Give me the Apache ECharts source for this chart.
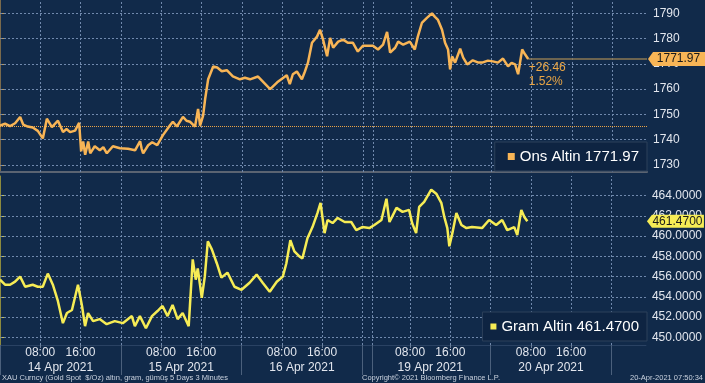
<!DOCTYPE html>
<html>
<head>
<meta charset="utf-8">
<script src="https://cdn.jsdelivr.net/npm/echarts@6/dist/echarts.min.js"></script>
<style>
html,body{margin:0;padding:0;background:#112a4a;}
#c{width:705px;height:383px;}
</style>
</head>
<body>
<div id="c"></div>
<script>
// ---- data (x = display hours from 14 Apr 2021 00:00, weekend compressed) ----
const onsHours = [
  0,1.0,2.0,3.0,4.0,4.6,5.5,6.5,7.5,8.5,
  9.3,10.3,11.5,12.5,13.2,13.9,14.9,15.7,16.1,16.5,
  16.9,17.5,17.9,18.8,19.8,20.5,21.2,22.4,23.8,25.4,
  26.8,27.8,28.1,28.4,29.4,30.2,31.2,32.3,33.7,34.3,
  35.1,36.3,37.0,37.7,38.7,39.3,39.7,40.3,40.7,41.3,
  42.3,43.1,44.0,45.0,46.2,47.6,48.6,49.6,51.2,52.4,
  53.6,55.0,56.9,57.5,58.1,58.9,59.9,60.5,61.1,61.9,
  62.9,63.5,64.1,64.9,65.5,66.1,67.1,68.1,69.0,70.0,
  71.0,72.0,74.0,75.0,76.0,76.8,77.4,78.4,79.0,80.0,
  81.3,82.3,82.9,83.7,84.7,85.7,86.3,86.9,87.7,88.3,
  88.9,89.3,89.7,90.3,91.3,91.9,92.7,93.8,94.8,95.8,
  96.8,97.8,98.8,99.8,100.8,101.5,102.2,102.8,103.6,104.2,
  104.8
];
const onsValues = [
  1745.6,1746.3,1745.4,1746.5,1749.0,1746.0,1745.2,1744.8,1743.5,1740.5,
  1748.3,1745.0,1747.5,1743.0,1744.2,1743.0,1743.6,1746.7,1735.4,1739.3,
  1734.0,1739.3,1734.6,1737.4,1735.8,1737.0,1734.6,1737.4,1736.6,1736.4,
  1735.8,1739.4,1736.5,1734.6,1737.8,1739.0,1737.8,1741.7,1745.6,1747.1,
  1745.2,1749.0,1747.5,1747.1,1745.2,1752.2,1745.6,1749.5,1756.1,1763.9,
  1769.0,1768.6,1767.1,1767.5,1765.1,1763.9,1764.5,1763.9,1765.0,1762.5,
  1760.0,1762.7,1765.5,1762.0,1765.9,1767.0,1763.9,1767.0,1770.5,1778.4,
  1780.8,1783.5,1779.6,1773.0,1780.3,1776.4,1778.8,1779.6,1778.4,1778.4,
  1774.9,1777.2,1777.2,1775.7,1777.6,1782.7,1774.5,1776.4,1778.8,1777.6,
  1778.8,1775.7,1780.8,1786.2,1788.2,1790.0,1788.6,1787.4,1783.5,1778.4,
  1775.7,1767.8,1773.0,1770.5,1776.0,1772.5,1769.8,1771.4,1770.6,1770.6,
  1771.3,1771.0,1770.5,1772.1,1769.0,1770.4,1769.8,1765.9,1775.7,1773.7,
  1771.97
];
const gramHours = [
  0,1.0,2.0,3.0,4.0,5.0,6.5,7.5,8.5,9.5,
  10.5,11.5,12.5,13.3,14.3,15.5,16.3,16.9,17.5,18.5,
  19.8,21.2,22.8,24.4,26.2,26.8,27.8,29.0,30.2,31.3,
  32.3,33.3,34.3,35.3,36.3,37.5,38.3,38.9,39.3,40.1,
  40.7,41.3,42.1,43.1,44.0,45.2,46.6,48.0,49.6,51.0,
  52.2,53.6,55.0,56.2,56.9,57.7,58.5,59.5,60.1,61.1,
  62.1,63.1,63.7,64.5,65.1,66.1,67.1,68.5,69.8,70.8,
  72.0,73.4,74.4,75.8,76.8,77.4,78.8,80.0,81.3,81.9,
  82.7,83.3,84.3,85.7,86.7,87.7,88.3,88.9,89.3,89.9,
  90.7,91.7,92.7,93.8,95.8,97.2,98.6,99.8,100.8,102.2,
  102.8,103.6,104.2,104.8
];
const gramValues = [
  455.7,455.2,455.2,455.5,456.0,455.0,455.2,455.0,455.0,456.3,
  455.2,453.6,451.4,452.4,452.7,455.2,453.1,451.1,452.4,451.6,
  451.8,451.3,451.6,451.4,452.1,451.1,452.1,450.9,452.1,452.6,
  453.1,452.1,453.2,451.8,452.4,451.1,457.7,455.7,456.8,453.9,
  456.0,459.5,458.7,457.3,455.9,456.4,455.0,454.7,455.4,456.2,
  455.4,454.5,455.5,456.0,457.3,459.6,458.5,458.0,457.8,459.8,
  460.9,462.3,463.3,460.3,461.6,461.3,461.8,461.4,461.4,460.6,
  460.9,460.8,461.1,461.6,463.7,461.4,462.8,462.4,462.6,461.3,
  460.3,462.9,463.4,464.6,464.2,463.3,461.9,460.8,459.0,460.3,
  462.3,461.1,460.8,460.9,460.8,461.6,461.1,461.6,460.6,460.9,
  460.1,462.6,461.9,461.47
];
const onsChange = '+26.46';
const onsChangePct = '1.52%';
const onsPrevClose = 1745.51;

const onsTicks = [1730,1740,1750,1760,1770,1780,1790];
const gramTicks = [450,452,454,456,458,460,462,464];
const timeHours = [8,16,32,40,56,64,81.5,89.5,105.5,113.5];
const timeLabels = ['08:00','16:00','08:00','16:00','08:00','16:00','08:00','16:00','08:00','16:00'];
const dateHours = [12,36,60,85.5,109.5];
const dateLabels = ['14 Apr 2021','15 Apr 2021','16 Apr 2021','19 Apr 2021','20 Apr 2021'];
const dayBoundaries = [0,24,48,72,74,97.5,121.5];
const gridHours = [8,16,24,32,40,48,56,64,72,74,81.5,89.5,97.5,105.5,113.5,121.5];

const X_MAX = 128.37;
const ORANGE = '#f8b556';
const YELLOW = '#f6ec55';
const FONT = '"Liberation Sans", Arial, sans-serif';

const onsData = onsHours.map((h,i)=>[h, onsValues[i]]);
const gramData = gramHours.map((h,i)=>[h, gramValues[i]]);
const onsLast = onsData[onsData.length-1];
const gramLast = gramData[gramData.length-1];

function gridMarks(ticks){
  const st = ()=>({color:'#7089ad', opacity:1, type:[2,2], width:1});
  return gridHours.map(h=>({xAxis:h, lineStyle:st()}))
    .concat(ticks.map(v=>({yAxis:v, lineStyle:st()})));
}
const tagPath = 'path://M0,7L5,0L57,0L57,14L5,14Z';

const chart = echarts.init(document.getElementById('c'), null, {renderer:'canvas'});
chart.setOption({
  animation:false,
  backgroundColor:'#112a4a',
  textStyle:{fontFamily:FONT},
  grid:[
    {left:0, right:58, top:0, height:172},
    {left:0, right:58, top:176, height:169}
  ],
  xAxis:[
    {type:'value', gridIndex:0, min:0, max:X_MAX,
     axisLine:{show:true, onZero:false, lineStyle:{color:'#5b6472', width:2}},
     axisTick:{show:false}, axisLabel:{show:false}, splitLine:{show:false}},
    {type:'value', gridIndex:1, min:0, max:X_MAX, position:'bottom',
     axisLine:{show:true, onZero:false, lineStyle:{color:'#2a4263', width:1}},
     axisTick:{show:true, length:3, customValues:timeHours, lineStyle:{color:'#6c7f98'}},
     axisLabel:{show:true, customValues:timeHours, margin:2, color:'#e2e6ee', fontSize:12, fontFamily:FONT,
       formatter:(v)=>{const i=timeHours.indexOf(v); return i>=0?timeLabels[i]:'';}},
     splitLine:{show:false}},
    {type:'value', gridIndex:1, min:0, max:X_MAX, position:'bottom', offset:15,
     axisLine:{show:false}, axisTick:{show:false},
     axisLabel:{show:true, customValues:dateHours, margin:2, color:'#e2e6ee', fontSize:12, fontFamily:FONT,
       formatter:(v)=>{const i=dateHours.indexOf(v); return i>=0?dateLabels[i]:'';}},
     splitLine:{show:false}},
    {type:'value', gridIndex:1, min:0, max:X_MAX, position:'bottom',
     axisLine:{show:false},
     axisTick:{show:true, length:30, customValues:dayBoundaries, lineStyle:{color:'#4b607c', width:1}},
     axisLabel:{show:false}, splitLine:{show:false}}
  ],
  yAxis:[
    {type:'value', gridIndex:0, position:'right', min:1727.2, max:1795.3,
     axisLine:{show:true, lineStyle:{color:'#7a6a4c', width:1}},
     axisTick:{show:true, length:4, customValues:onsTicks, lineStyle:{color:'#b89862'}},
     axisLabel:{show:true, customValues:onsTicks, margin:6, color:'#e2e6ee', fontSize:12, fontFamily:FONT,
       formatter:(v)=>String(v)},
     splitLine:{show:false}},
    {type:'value', gridIndex:1, position:'right', min:449.24, max:465.95,
     axisLine:{show:true, lineStyle:{color:'#8c8a3e', width:1}},
     axisTick:{show:true, length:4, customValues:gramTicks, lineStyle:{color:'#c4bd52'}},
     axisLabel:{show:true, customValues:gramTicks, margin:6, color:'#e2e6ee', fontSize:12, fontFamily:FONT,
       formatter:(v)=>v.toFixed(4)},
     splitLine:{show:false}}
  ],
  legend:[
    {data:['Ons Altin'], right:58, top:142, icon:'rect', itemWidth:7, itemHeight:7,
     padding:[7,8,7,13], backgroundColor:'#0e2442', borderColor:'#2c405a', borderWidth:1,
     textStyle:{color:'#ffffff', fontSize:15, fontFamily:FONT},
     formatter:(n)=>n+' '+onsLast[1].toFixed(2)},
    {data:['Gram Altin'], right:58, top:312, icon:'rect', itemWidth:6, itemHeight:6,
     padding:[7,8,7,8], backgroundColor:'#0e2442', borderColor:'#2c405a', borderWidth:1,
     textStyle:{color:'#ffffff', fontSize:15, fontFamily:FONT},
     formatter:(n)=>n+' '+gramLast[1].toFixed(4)}
  ],
  series:[
    {name:'Ons Altin', type:'line', xAxisIndex:0, yAxisIndex:0, data:onsData, z:3,
     showSymbol:false, symbol:'none', color:ORANGE,
     lineStyle:{color:ORANGE, width:2.5},
     markLine:{silent:true, z:1, symbol:'none', label:{show:false}, animation:false,
       data:gridMarks(onsTicks).concat([
         {yAxis:onsPrevClose, lineStyle:{color:'#e9a447', type:'dotted', width:1}},
         [{coord:[onsLast[0], onsLast[1]], lineStyle:{color:'#8c7a55', type:'solid', width:1.5}},
          {coord:[X_MAX, onsLast[1]]}]
       ])},
     markPoint:{silent:true, data:[
       {coord:[X_MAX, onsLast[1]], symbol:tagPath, symbolSize:[57,14], symbolOffset:[29.5,0],
        itemStyle:{color:ORANGE},
        label:{show:true, position:'inside', offset:[2,0], color:'#1a1a1a', fontSize:12, fontFamily:FONT,
          formatter:()=>onsLast[1].toFixed(2)}},
       {coord:[onsLast[0], onsLast[1]], symbol:'circle', symbolSize:1, itemStyle:{color:'rgba(0,0,0,0)'},
        label:{show:true, position:[1,2], color:'#eaa645', fontSize:12, lineHeight:14, fontFamily:FONT,
          formatter:()=>onsChange+'\n'+onsChangePct}}
     ]}},
    {name:'Gram Altin', type:'line', xAxisIndex:1, yAxisIndex:1, data:gramData, z:3,
     showSymbol:false, symbol:'none', color:YELLOW,
     lineStyle:{color:YELLOW, width:2.5},
     markLine:{silent:true, z:1, symbol:'none', label:{show:false}, animation:false,
       data:gridMarks(gramTicks)},
     markPoint:{silent:true, data:[
       {coord:[X_MAX, gramLast[1]], symbol:tagPath, symbolSize:[57,13], symbolOffset:[29.5,0],
        itemStyle:{color:YELLOW},
        label:{show:true, position:'inside', offset:[2,0], color:'#1a1a1a', fontSize:12, fontFamily:FONT,
          formatter:()=>gramLast[1].toFixed(4)}}
     ]}}
  ],
  graphic:[
    {type:'text', left:2, top:374, style:{text:'XAU Curncy (Gold Spot  $/Oz) altın, gram, gümüş 5 Days 3 Minutes', fill:'#c9d1de', font:'7.5px '+FONT}},
    {type:'text', left:362, top:374, style:{text:'Copyright© 2021 Bloomberg Finance L.P.', fill:'#c9d1de', font:'7.5px '+FONT}},
    {type:'text', right:2, top:374, style:{text:'20-Apr-2021 07:50:34', fill:'#c9d1de', font:'7.5px '+FONT}}
  ]
});
</script>
</body>
</html>
